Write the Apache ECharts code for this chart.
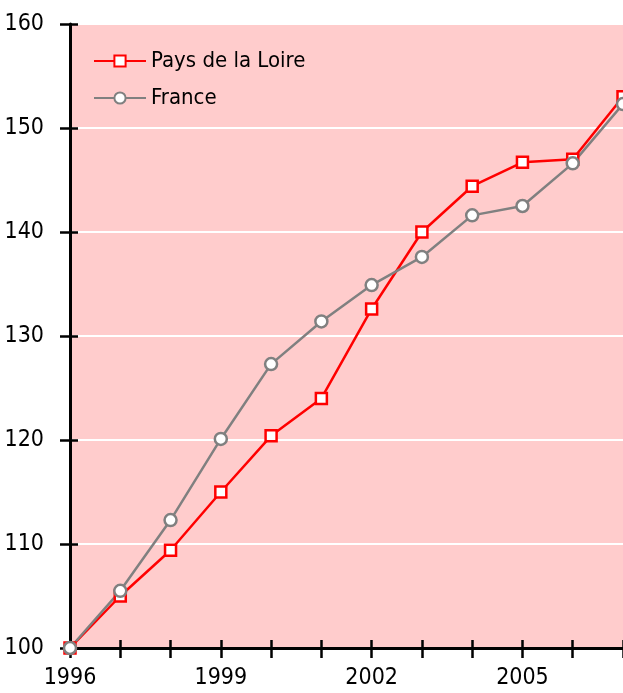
<!DOCTYPE html>
<html>
<head>
<meta charset="utf-8">
<script src="https://cdn.jsdelivr.net/npm/echarts@6/dist/echarts.min.js"></script>
<style>
  html, body { margin: 0; padding: 0; background: #fff; }
  #chart { width: 623px; height: 693px; }
</style>
</head>
<body>
<div id="chart"></div>
<script>
const years = ['1996', '1997', '1998', '1999', '2000', '2001', '2002', '2003', '2004', '2005', '2006', '2007']
const paysDeLaLoire = [100, 105.0, 109.4, 115.0, 120.4, 124.0, 132.6, 140.0, 144.4, 146.7, 147.0, 153.0]
const france = [100, 105.5, 112.3, 120.1, 127.3, 131.4, 134.9, 137.6, 141.6, 142.5, 146.6, 152.3]
const seriesNames = ['Pays de la Loire', 'France']

const font = '"DejaVu Sans Condensed", "Liberation Sans Narrow", sans-serif'

let myChart = echarts.init(document.getElementById('chart'), null, { renderer: 'canvas' })

let option
option = {
  animation: false,
  textStyle: { fontFamily: font },
  grid: {
    left: 70,
    right: 0,
    top: 24,
    bottom: 45,
    show: true,
    backgroundColor: '#FFCCCC',
    borderWidth: 0
  },
  legend: {
    left: 93,
    top: 50,
    padding: 0,
    orient: 'vertical',
    itemWidth: 52,
    itemHeight: 14,
    itemGap: 15,
    textStyle: { fontFamily: font, fontSize: 22, color: '#000' },
    data: seriesNames
  },
  xAxis: [
    {
      type: 'category',
      data: years,
      boundaryGap: false,
      axisLine: { lineStyle: { color: '#000', width: 3 } },
      axisTick: { alignWithLabel: true, interval: 0, length: 10, lineStyle: { color: '#000', width: 2.5 } },
      axisLabel: { interval: 2, margin: 19, fontFamily: font, fontSize: 23, color: '#000' },
      splitLine: { show: false }
    },
    {
      type: 'category',
      data: years,
      boundaryGap: false,
      position: 'bottom',
      axisLine: { show: false },
      axisTick: { inside: true, interval: 0, length: 8, lineStyle: { color: '#000', width: 2.5 } },
      axisLabel: { show: false },
      splitLine: { show: false }
    }
  ],
  yAxis: [
    {
      type: 'value',
      min: 100,
      max: 160,
      interval: 10,
      axisLine: { show: true, lineStyle: { color: '#000', width: 3 } },
      axisTick: { show: true, length: 10, lineStyle: { color: '#000', width: 2.5 } },
      axisLabel: { margin: 26, fontFamily: font, fontSize: 23, color: '#000' },
      splitLine: { show: true, lineStyle: { color: '#fff', width: 2 } }
    },
    {
      type: 'value',
      min: 100,
      max: 160,
      interval: 10,
      position: 'left',
      axisLine: { show: false },
      axisTick: { show: true, inside: true, length: 8, lineStyle: { color: '#000', width: 2.5 } },
      axisLabel: { show: false },
      splitLine: { show: false }
    }
  ],
  series: [
    {
      name: seriesNames[0],
      type: 'line',
      data: paysDeLaLoire,
      symbol: 'rect',
      symbolSize: 11,
      showAllSymbol: true,
      clip: false,
      lineStyle: { color: '#FF0000', width: 2.5 },
      itemStyle: { color: '#fff', borderColor: '#FF0000', borderWidth: 2.5 }
    },
    {
      name: seriesNames[1],
      type: 'line',
      data: france,
      symbol: 'circle',
      symbolSize: 12,
      showAllSymbol: true,
      clip: false,
      lineStyle: { color: '#808080', width: 2.5 },
      itemStyle: { color: '#fff', borderColor: '#808080', borderWidth: 2.5 }
    }
  ]
}
myChart.setOption(option)
</script>
</body>
</html>
